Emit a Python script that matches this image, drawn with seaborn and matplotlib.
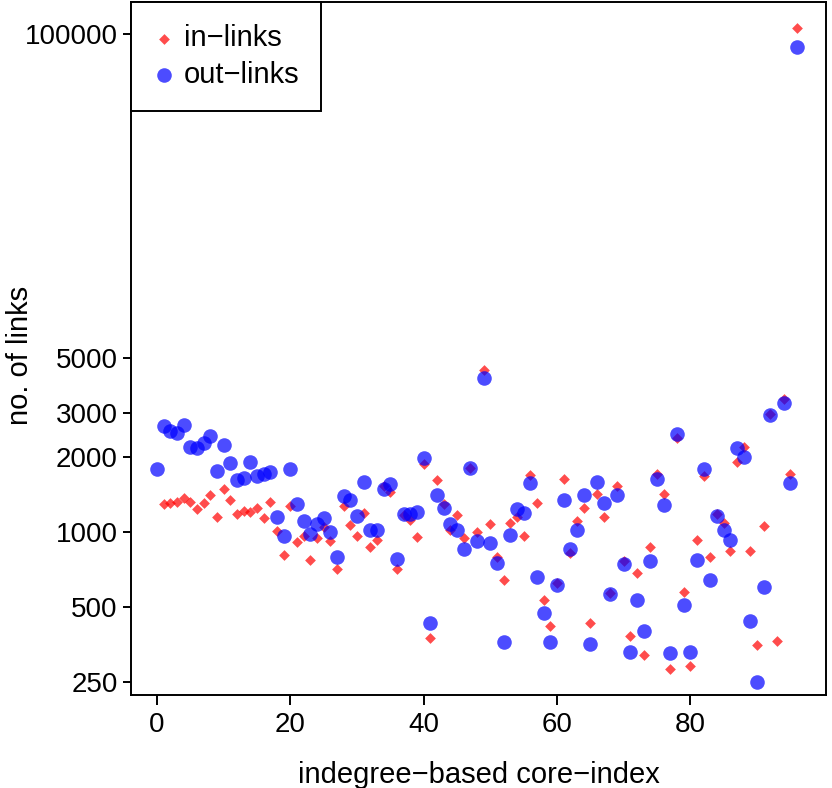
import numpy as np
import pandas as pd
import matplotlib
matplotlib.use("Agg")
import matplotlib.pyplot as plt
import seaborn as sns

# core index 0..96, values in number of links (nan = not drawn)
core_index = list(range(97))

in_links = [
    np.nan, 1290, 1300, 1320, 1360, 1320, 1230, 1310, 1400, 1150,
    1480, 1340, 1180, 1210, 1200, 1240, 1140, 1320, 1010, 810,
    1270, 910, 960, 770, 940, 1040, 920, 710, 1270, 1060,
    960, 1190, 870, 930, 1520, 1450, 710, 1170, 1110, 950,
    1870, 375, 1610, 1290, 1020, 1170, 940, 1810, 1000, 4460,
    1070, 790, 640, 1080, 1150, 960, 1690, 1300, 530, 420,
    620, 1630, 820, 1100, 1250, 430, 1420, 1150, 570, 1530,
    760, 380, 680, 320, 870, 1700, 1420, 280, 2380, 575,
    290, 930, 1680, 790, 1180, 1080, 840, 1910, 2180, 840,
    350, 1050, 2970, 365, 3400, 1710, 105000,
]

out_links = [
    1790, 2650, 2530, 2500, 2680, 2180, 2170, 2280, 2420, 1760,
    2220, 1890, 1620, 1650, 1900, 1680, 1710, 1730, 1150, 960,
    1780, 1290, 1100, 980, 1070, 1140, 1000, 790, 1390, 1340,
    1160, 1590, 1020, 1020, 1490, 1550, 780, 1180, 1180, 1200,
    1980, 430, 1400, 1240, 1070, 1020, 850, 1810, 920, 4130,
    900, 750, 360, 970, 1230, 1190, 1570, 660, 470, 360,
    610, 1340, 850, 1020, 1400, 355, 1590, 1310, 560, 1400,
    740, 330, 530, 400, 760, 1630, 1280, 325, 2470, 510,
    330, 770, 1790, 640, 1160, 1020, 930, 2170, 2000, 440,
    250, 600, 2950, np.nan, 3280, 1570, 88000,
]

y_ticks = [250, 500, 1000, 2000, 3000, 5000, 100000]
x_ticks = [0, 20, 40, 60, 80]

df = pd.DataFrame({"core": core_index, "in": in_links, "out": out_links})

sns.set_style("ticks")
plt.rcParams["font.family"] = ["Liberation Sans", "DejaVu Sans"]
plt.rcParams["axes.linewidth"] = 1.4
plt.rcParams["text.color"] = "black"
plt.rcParams["axes.labelcolor"] = "black"

fig = plt.figure(figsize=(8.32, 7.88), dpi=100)
ax = fig.add_axes([0.158, 0.118, 0.8345, 0.879])

sns.scatterplot(data=df, x="core", y="in", ax=ax, marker="D", s=30,
                color=(1, 0, 0), alpha=0.7, linewidth=0, label="in\u2212links")
sns.scatterplot(data=df, x="core", y="out", ax=ax, marker="o", s=110,
                color=(0, 0, 1), alpha=0.7, linewidth=0, label="out\u2212links")

ax.set_yscale("log")
ax.set_ylim(221, 133500)
ax.set_xlim(-3.84, 100.3)
ax.set_yticks(y_ticks)
ax.set_yticklabels([str(v) for v in y_ticks])
ax.minorticks_off()
ax.set_xticks(x_ticks)

for s in ax.spines.values():
    s.set_visible(True)
    s.set_color("black")

ax.tick_params(axis="both", labelsize=20, width=1.4, color="black",
               labelcolor="black")
ax.tick_params(axis="x", length=7, pad=5.5)
ax.tick_params(axis="y", length=5.5, pad=4.5)
ax.set_xlabel("indegree\u2212based core\u2212index", fontsize=21, labelpad=16,
              color="black")
ax.set_ylabel("no. of links", fontsize=21, color="black")
ax.yaxis.set_label_coords(-0.141, 0.49)

leg = ax.legend(loc="upper left", fontsize=21, frameon=True, fancybox=False,
                borderaxespad=0, edgecolor="black", framealpha=1,
                handlelength=0.7, handletextpad=0.35, borderpad=0.75,
                labelspacing=0.3, labelcolor="black")
leg.get_frame().set_linewidth(1.4)

fig.savefig("out.png", dpi=100)
